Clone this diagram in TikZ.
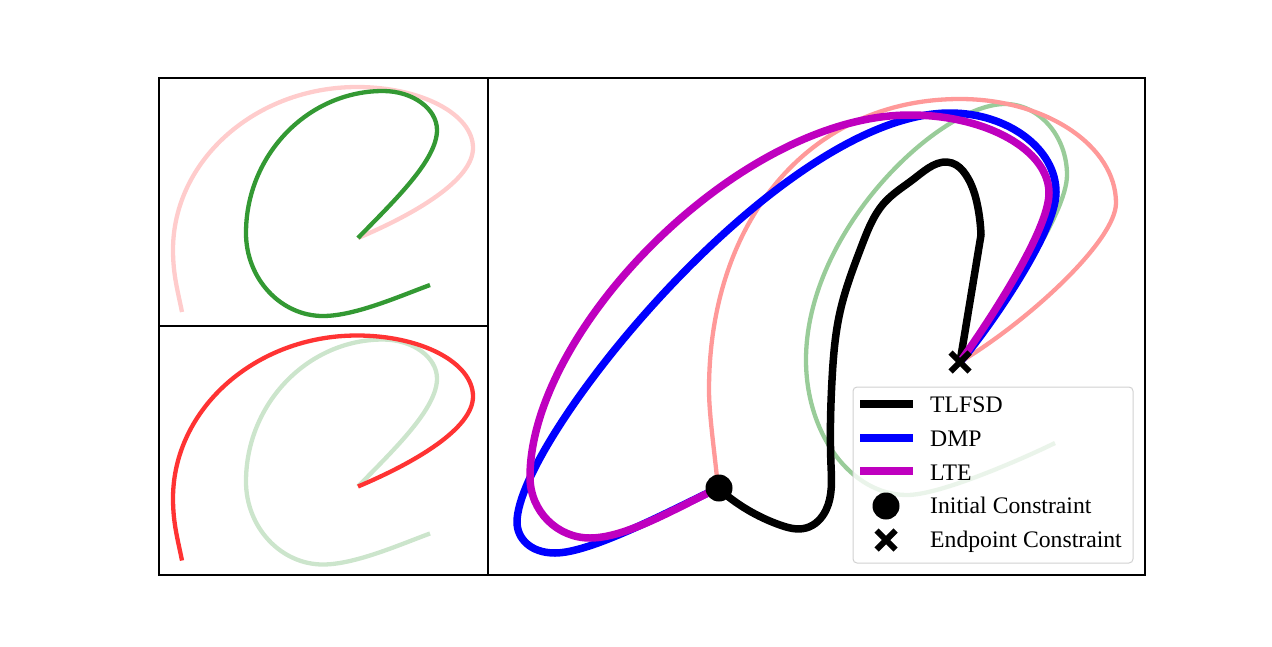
\documentclass[tikz,border=0pt]{standalone}
\usepackage{fontspec}
\setmainfont{Liberation Serif}
\usetikzlibrary{positioning,hobby}
\definecolor{mplgreen}{rgb}{0,.5,0}
\definecolor{mplmag}{rgb}{.75,0,.75}

\begin{document}
\begin{tikzpicture}[x=1pt,y=-1pt,% pixel grid of the figure
		frame/.style={draw=black,line width=1.1pt},
		thin curve/.style={line width=4.3pt,line cap=butt},
		thick curve/.style={line width=7.5pt,line cap=butt,line join=round},
		legtext/.style={inner sep=0pt,anchor=base west,font=\fontsize{23.7}{28}\selectfont}
	]
	\useasboundingbox (0,0) rectangle (1272,646);

	% left column: the two demonstrations
	\draw[thin curve,red!20] (358,238) .. controls (415,214) and (473,180) .. (473,148)
		.. controls (473,114) and (421,87) .. (357,87)
		.. controls (256,87) and (173,160) .. (173,250)
		.. controls (173,275) and (178,292) .. (182,312);
	\draw[thin curve,mplgreen!80] (358,238) .. controls (395,200) and (437,160) .. (437,130)
		.. controls (437,109) and (413,91) .. (383,91)
		.. controls (308,91) and (246,155) .. (246,233)
		.. controls (246,279) and (281,316) .. (323,316)
		.. controls (355,316) and (400,296) .. (430,285);
	\begin{scope}[yshift=-248.5pt]
		\draw[thin curve,mplgreen!20] (358,238) .. controls (395,200) and (437,160) .. (437,130)
			.. controls (437,109) and (413,91) .. (383,91)
			.. controls (308,91) and (246,155) .. (246,233)
			.. controls (246,279) and (281,316) .. (323,316)
			.. controls (355,316) and (400,296) .. (430,285);
		\draw[thin curve,red!80] (358,238) .. controls (415,214) and (473,180) .. (473,148)
			.. controls (473,114) and (421,87) .. (357,87)
			.. controls (256,87) and (173,160) .. (173,250)
			.. controls (173,275) and (178,292) .. (182,312);
	\end{scope}

	% right panel: reproductions
	\draw[thin curve,mplgreen!40] (960,362) .. controls (1000,310) and (1067,215) .. (1067,175)
		.. controls (1067,136) and (1039,104) .. (1005,104)
		.. controls (940,104) and (806,230) .. (806,360)
		.. controls (806,434) and (851,495) .. (907,495)
		.. controls (940,495) and (1020,460) .. (1055,443);
	\draw[thin curve,red!40] (718,488) .. controls (715,455) and (709,415) .. (709,390)
		.. controls (709,220) and (810,99) .. (960,99)
		.. controls (1046,99) and (1116,146) .. (1116,203)
		.. controls (1116,240) and (1030,320) .. (960,362);
	\draw[thick curve,black,use Hobby shortcut] (718,488) .. (780,525) .. (806,528) .. (826,510) .. (831,465) .. (832,380) .. (840,312) .. (862,245) .. (885,202) .. (915,178) .. (952,163) .. (966,175) .. (978,208) .. (981,235) -- (960,362);
	\draw[thick curve,blue] (718,488) .. controls (664,514) and (590,553) .. (555,553)
		.. controls (530,553) and (517,538) .. (517,522)
		.. controls (517,440) and (780,113) .. (950,113)
		.. controls (1008,113) and (1056,149) .. (1056,192)
		.. controls (1056,235) and (980,340) .. (960,362);
	\draw[thick curve,mplmag] (718,488) .. controls (673,510) and (625,538) .. (590,538)
		.. controls (557,538) and (530,511) .. (530,477)
		.. controls (530,330) and (740,115) .. (910,115)
		.. controls (986,115) and (1049,150) .. (1049,193)
		.. controls (1049,230) and (990,320) .. (960,362);

	% constraints
	\node[circle,fill=black,inner sep=0pt,minimum size=27pt] (init) at (719,488) {};
	\coordinate (goal) at (960,362);
	\draw[line width=6pt,black] ([shift={(-9.5,-9.5)}]goal) -- ([shift={(9.5,9.5)}]goal)
		([shift={(-9.5,9.5)}]goal) -- ([shift={(9.5,-9.5)}]goal);

	% axes frames
	\draw[frame] (159,78) rectangle (488,326);
	\draw[frame] (159,326) rectangle (488,575);
	\draw[frame] (488,78) rectangle (1145,575);

	% legend
	\draw[draw=black!18,fill=white,fill opacity=0.8,rounded corners=4pt,line width=1pt] (853,387) rectangle (1133,563);
	\draw[thick curve,black] (860,404) -- (913,404);
	\draw[thick curve,blue] (860,438) -- (913,438);
	\draw[thick curve,mplmag] (860,471) -- (913,471);
	\node[circle,fill=black,inner sep=0pt,minimum size=27pt] (initkey) at (886,506) {};
	\coordinate (goalkey) at (886,540);
	\draw[line width=6pt,black] ([shift={(-9.5,-9.5)}]goalkey) -- ([shift={(9.5,9.5)}]goalkey)
		([shift={(-9.5,9.5)}]goalkey) -- ([shift={(9.5,-9.5)}]goalkey);
	\node[legtext] (tlfsd) at (930,412) {TLFSD};
	\node[legtext] (dmp) at (930,446) {DMP};
	\node[legtext] (lte) at (930,480) {LTE};
	\node[legtext] (initlabel) at (930,513) {Initial Constraint};
	\node[legtext] (goallabel) at (930,547) {Endpoint Constraint};
\end{tikzpicture}
\end{document}
